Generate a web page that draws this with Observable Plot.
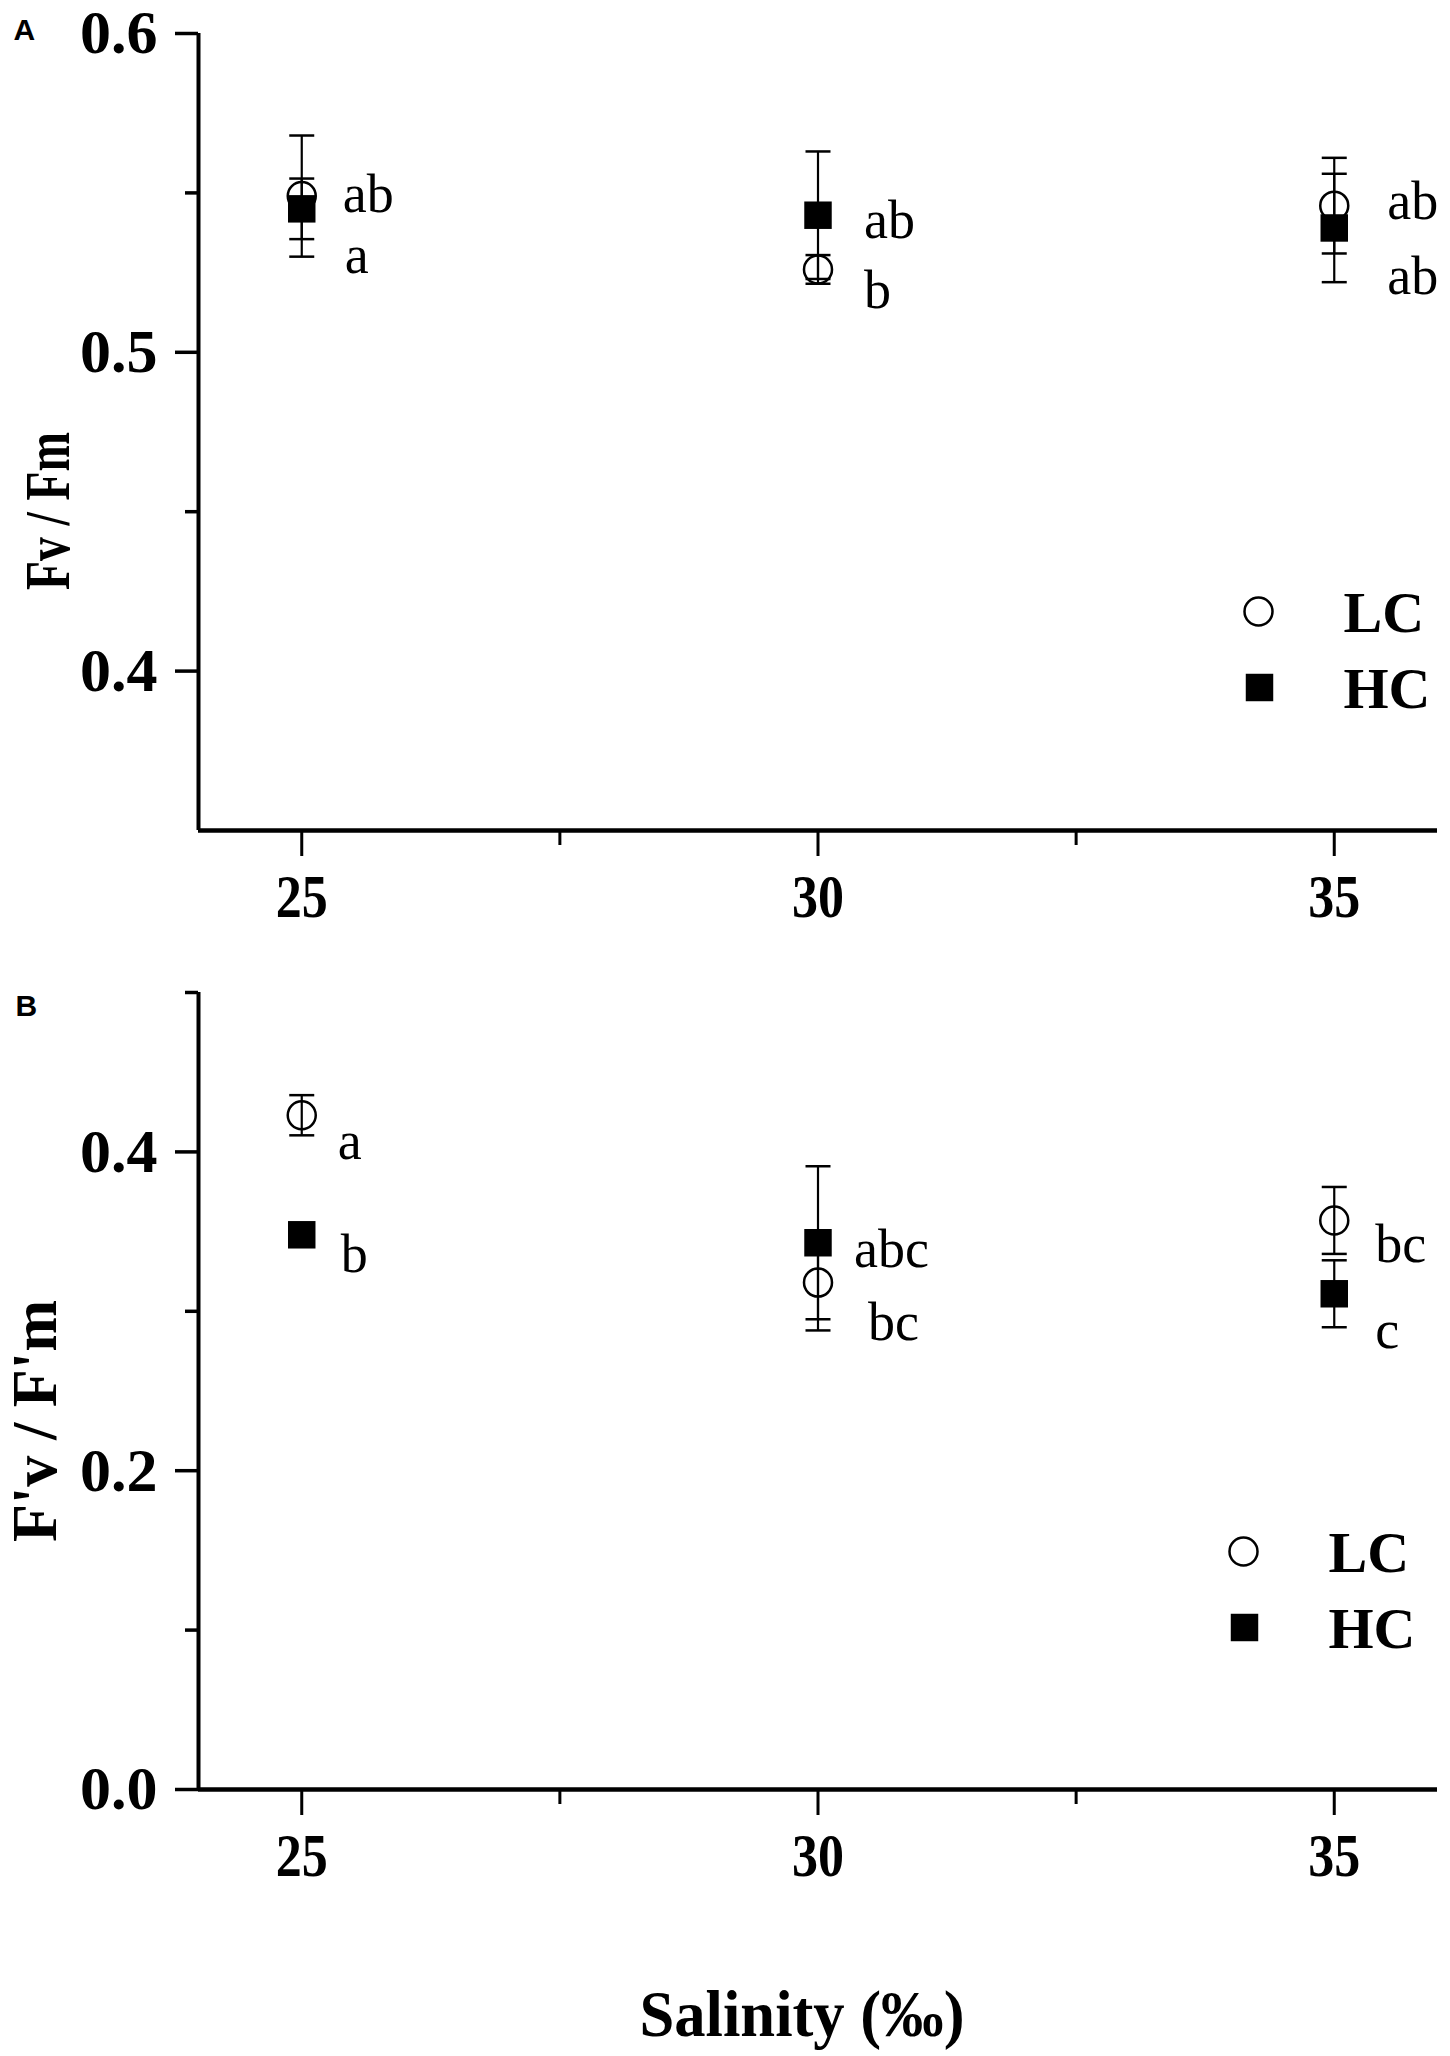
<!DOCTYPE html>
<html><head><meta charset="utf-8">
<script src="https://cdn.jsdelivr.net/npm/d3@7"></script>
<script src="https://cdn.jsdelivr.net/npm/@observablehq/plot@0.6"></script>
<style>
html,body{margin:0;padding:0;background:#fff;}
#chart svg{display:block;}
</style></head><body><div id="chart"></div>
<script>
// ---- data ----
const salinity = [25, 30, 35];
const xDomain = [24, 36];
const xTicks = [25, 30, 35];
const xMinor = [27.5, 32.5];
const seriesNames = ["LC", "HC"];

// Panel A: Fv/Fm
const fvfmLC = [0.549, 0.526, 0.546];
const fvfmLCerr = [0.019, 0.0045, 0.015];
const fvfmHC = [0.545, 0.543, 0.539];
const fvfmHCerr = [0.0095, 0.020, 0.017];
const fvfmLCletters = ["ab", "b", "ab"];
const fvfmHCletters = ["a", "ab", "ab"];
const yDomainA = [0.35, 0.6];
const yTicksA = [0.4, 0.5, 0.6];
const yMinorA = [0.45, 0.55];

// Panel B: F'v/F'm
const effLC = [0.423, 0.318, 0.357];
const effLCerr = [0.0126, 0.030, 0.021];
const effHC = [0.348, 0.343, 0.311];
const effHCerr = [0.004, 0.048, 0.021];
const effLCletters = ["a", "bc", "bc"];
const effHCletters = ["b", "abc", "c"];
const yDomainB = [0, 0.5];
const yTicksB = [0.0, 0.2, 0.4];
const yMinorB = [0.1, 0.3, 0.5];

const panelLetters = ["A", "B"];
const yTitles = ["Fv / Fm", "F'v / F'm"];
const xTitle = "Salinity (‰)";

// ---- styling ----
const serif = "'Liberation Serif', 'Times New Roman', serif";
const sans = "'Liberation Sans', Arial, sans-serif";
const capSymbol = {draw(ctx, size) { const r = Math.sqrt(size / Math.PI); ctx.moveTo(-r, 0); ctx.lineTo(r, 0); }};

function rows(lc, lcErr, hc, hcErr, lcLet, hcLet) {
  return salinity.flatMap((s, i) => [
    {s, series: seriesNames[0], v: lc[i], e: lcErr[i], letter: lcLet[i], i},
    {s, series: seriesNames[1], v: hc[i], e: hcErr[i], letter: hcLet[i], i}
  ]);
}

function condense(svg, content, len) {
  svg.querySelectorAll("text").forEach(t => {
    if (t.textContent === content) { t.setAttribute("textLength", len); t.setAttribute("lengthAdjust", "spacingAndGlyphs"); }
  });
}

function panel(o) {
  const lc = o.data.filter(d => d.series === "LC");
  const hc = o.data.filter(d => d.series === "HC");
  const labelMarks = o.data.map(d => {
    const [dx, dy] = o.labelOffsets[d.series][d.i];
    return Plot.text([d], {x: "s", y: "v", text: "letter", dx, dy, textAnchor: "start", lineAnchor: "bottom",
      fontSize: 54, fontFamily: serif, fill: "black"});
  });
  const L = o.legend;
  const svg = Plot.plot({
    width: 1450, height: o.height,
    marginLeft: 198, marginRight: 13, marginTop: o.marginTop, marginBottom: o.marginBottom,
    style: {fontFamily: serif, background: "white", color: "black", overflow: "visible"},
    x: {domain: xDomain, axis: null},
    y: {domain: o.yDomain, axis: null},
    marks: [
      Plot.axisY(o.yTicks, {anchor: "left", tickSize: 23, tickPadding: 18, strokeWidth: 3.5, fontSize: 62, fontWeight: "bold",
        fontFamily: serif, tickFormat: d3.format(".1f"), label: null}),
      Plot.axisY(o.yMinor, {anchor: "left", tickSize: 13, strokeWidth: 3.5, tickFormat: () => "", label: null}),
      Plot.axisX(xTicks, {anchor: "bottom", tickSize: 26, tickPadding: 16, strokeWidth: 3, fontSize: 62, fontWeight: "bold",
        fontFamily: serif, label: null}),
      Plot.axisX(xMinor, {anchor: "bottom", tickSize: 15, strokeWidth: 3, tickFormat: () => "", label: null}),
      Plot.ruleY([o.yDomain[0]], {strokeWidth: 4.5}),
      Plot.ruleX([xDomain[0]], {strokeWidth: 4}),
      Plot.dot(lc, {x: "s", y: "v", r: 14, stroke: "black", strokeWidth: 2.5, fill: "white"}),
      Plot.dot(hc, {x: "s", y: "v", r: 15.5, symbol: "square", fill: "black"}),
      Plot.ruleX(o.data, {x: "s", y1: d => d.v - d.e, y2: d => d.v + d.e, strokeWidth: 2.2}),
      Plot.dot(o.data, {x: "s", y: d => d.v + d.e, r: 12.5, symbol: capSymbol, stroke: "black", strokeWidth: 2.5}),
      Plot.dot(o.data, {x: "s", y: d => d.v - d.e, r: 12.5, symbol: capSymbol, stroke: "black", strokeWidth: 2.5}),
      ...labelMarks,
      // legend
      Plot.dot([seriesNames[0]], {frameAnchor: "bottom-right", dx: L.circle[0], dy: L.circle[1], r: 14, stroke: "black", strokeWidth: 2.5, fill: "white"}),
      Plot.dot([seriesNames[1]], {frameAnchor: "bottom-right", dx: L.square[0], dy: L.square[1], r: 15.5, symbol: "square", fill: "black"}),
      Plot.text([seriesNames[0]], {text: d => d, frameAnchor: "bottom-right", dx: L.lcText[0], dy: L.lcText[1], textAnchor: "start",
        lineAnchor: "bottom", fontSize: 58, fontWeight: "bold", fontFamily: serif}),
      Plot.text([seriesNames[1]], {text: d => d, frameAnchor: "bottom-right", dx: L.hcText[0], dy: L.hcText[1], textAnchor: "start",
        lineAnchor: "bottom", fontSize: 58, fontWeight: "bold", fontFamily: serif}),
      // panel letter
      Plot.text([o.letter], {text: d => d, frameAnchor: "top-left", dx: o.letterPos[0], dy: o.letterPos[1], textAnchor: "start",
        lineAnchor: "bottom", fontSize: 30, fontWeight: "bold", fontFamily: sans}),
      // y title
      Plot.text([o.yTitle], {text: d => d, frameAnchor: "left", dx: o.yTitlePos[0], dy: o.yTitlePos[1], rotate: -90,
        textAnchor: "middle", lineAnchor: "bottom", fontSize: 64, fontWeight: "bold", fontFamily: serif}),
      ...(o.showXTitle ? [Plot.text([xTitle], {text: d => d, frameAnchor: "bottom", dx: -16, dy: 246, textAnchor: "middle",
        lineAnchor: "bottom", fontSize: 66, fontWeight: "bold", fontFamily: serif})] : [])
    ]
  });
  // condensed look of the original bold labels
  xTicks.forEach(t => condense(svg, String(t), 52));
  condense(svg, o.yTitle, o.yTitleLen);
  condense(svg, xTitle, 325);
  return svg;
}

const chart = document.getElementById("chart");
chart.appendChild(panel({
  data: rows(fvfmLC, fvfmLCerr, fvfmHC, fvfmHCerr, fvfmLCletters, fvfmHCletters),
  yDomain: yDomainA, yTicks: yTicksA, yMinor: yMinorA,
  height: 960, marginTop: 33, marginBottom: 130,
  letter: panelLetters[0], letterPos: [-185, 6],
  yTitle: yTitles[0], yTitlePos: [-130, 79], yTitleLen: 158,
  labelOffsets: {LC: [[41, 16], [46, 39], [53, 13]], HC: [[43, 64], [46, 23], [53, 66]]},
  legend: {circle: [-179, -219], square: [-178, -143], lcText: [-94, -199], hcText: [-94, -123]},
  showXTitle: false
}));
chart.appendChild(panel({
  data: rows(effLC, effLCerr, effHC, effHCerr, effLCletters, effHCletters),
  yDomain: yDomainB, yTicks: yTicksB, yMinor: yMinorB,
  height: 1096, marginTop: 32, marginBottom: 267,
  letter: panelLetters[1], letterPos: [-183, 23],
  yTitle: yTitles[1], yTitlePos: [-143, 30], yTitleLen: 242,
  labelOffsets: {LC: [[36, 44], [50, 57], [41, 42]], HC: [[39, 37], [36, 24], [41, 54]]},
  legend: {circle: [-194, -238], square: [-193, -162], lcText: [-109, -218], hcText: [-109, -142]},
  showXTitle: true
}));
</script></body></html>
